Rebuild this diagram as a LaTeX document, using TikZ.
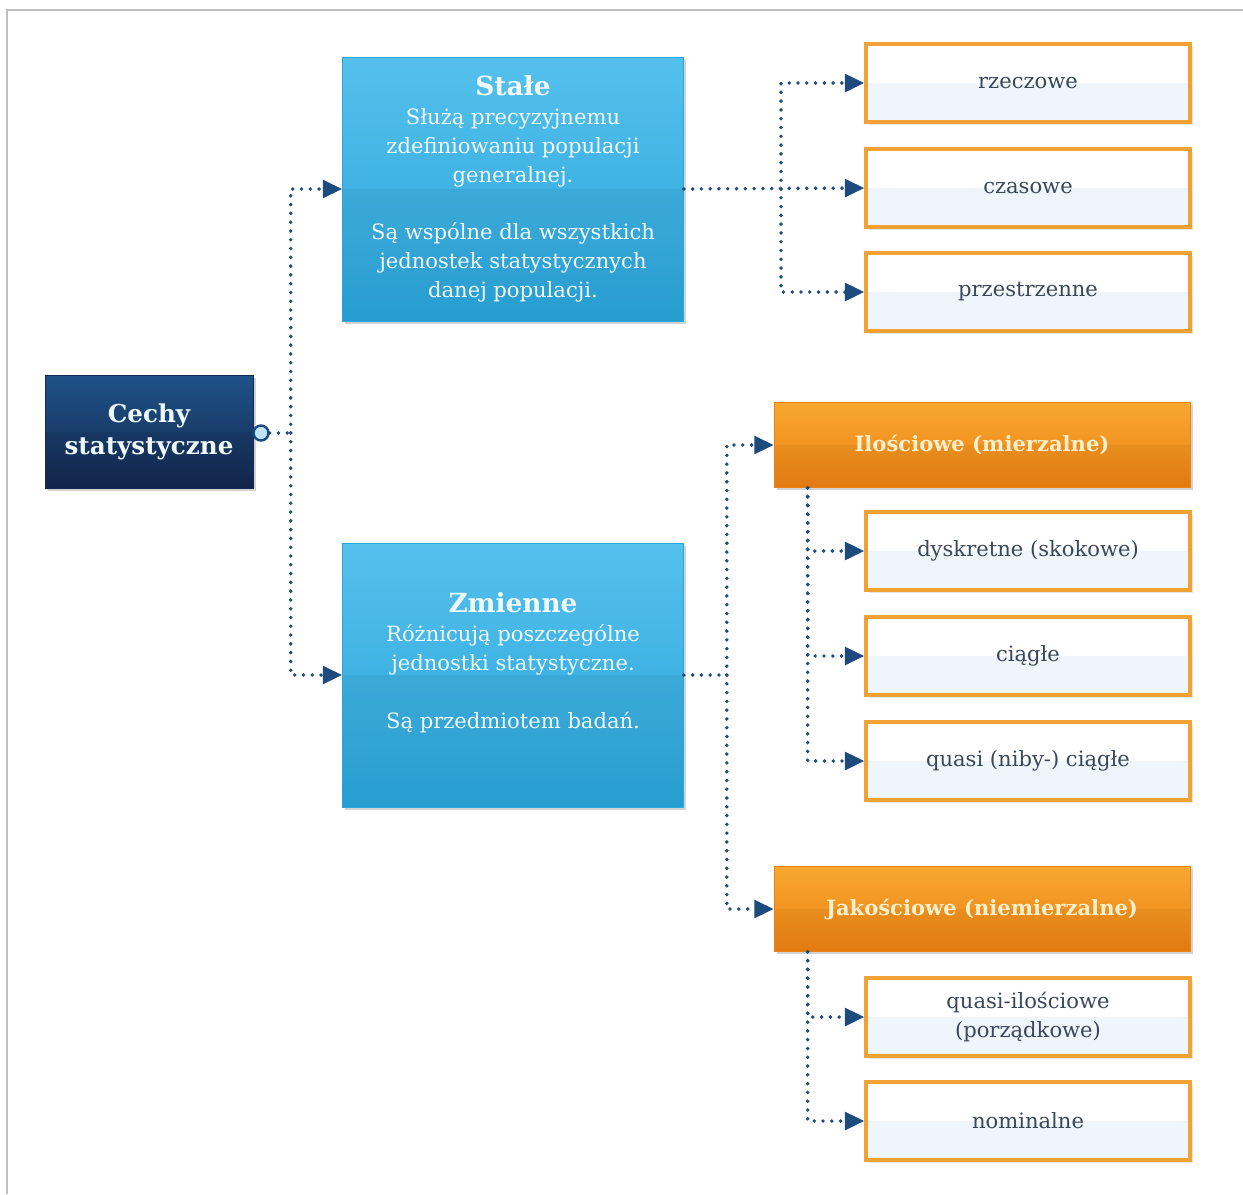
\documentclass[tikz,border=0pt]{standalone}
\usepackage{fontspec}
\setmainfont{DejaVu Serif}
\usepackage{tikz}
\usetikzlibrary{arrows.meta,positioning,shadows}
\definecolor{navytop}{RGB}{30,82,135}
\definecolor{navybot}{RGB}{20,40,80}
\definecolor{skytop}{RGB}{85,192,236}
\definecolor{skybot}{RGB}{42,166,220}
\definecolor{ambertop}{RGB}{248,168,48}
\definecolor{amberbot}{RGB}{236,128,18}
\definecolor{amberline}{RGB}{242,162,52}
\definecolor{linkblue}{RGB}{30,75,125}
\definecolor{inktext}{RGB}{58,72,90}
\definecolor{creamtext}{RGB}{255,240,205}
\definecolor{paleblue}{RGB}{238,245,251}

\begin{document}
\begin{tikzpicture}[
  x=0.02cm, y=-0.02cm,
  gloss/.style={path picture={\fill[black, opacity=#1] (path picture bounding box.west) rectangle (path picture bounding box.south east);}},
  gloss/.default=0.07,
  shade/.style={drop shadow={opacity=#1, shadow xshift=1.6pt, shadow yshift=-1.6pt}},
  shade/.default=0.35,
  rootbox/.style={minimum width=4.16cm, minimum height=2.26cm, inner sep=0pt, top color=navytop, bottom color=navybot, draw=navybot, text=white!90!skytop, font=\bfseries\fontsize{14}{18}\selectfont, align=center, shade, gloss},
  groupbox/.style={minimum width=6.82cm, minimum height=5.28cm, inner sep=0pt, top color=skytop, bottom color=skybot, draw=skybot, text=white!92!skytop, font=\fontsize{12}{16.4}\selectfont, align=center, shade, gloss=0.05},
  headbox/.style={minimum width=8.32cm, minimum height=1.7cm, inner sep=0pt, top color=ambertop, bottom color=amberbot, draw=amberbot, text=creamtext, font=\bfseries\fontsize{12}{15}\selectfont, align=center, shade, gloss=0.04},
  leafbox/.style={minimum width=6.48cm, minimum height=1.56cm, inner sep=0pt, fill=white, draw=amberline, line width=2pt, text=inktext, font=\fontsize{12}{16.4}\selectfont, align=center, shade=0.2,
    path picture={\fill[paleblue] (path picture bounding box.west) rectangle (path picture bounding box.south east);}},
  link/.style={linkblue, line width=2.2pt, line cap=round, dash pattern=on 0pt off 5pt},
  arr/.style={link, -{Triangle[length=11pt,width=10pt]}},
]
\useasboundingbox (0,0) rectangle (1243,1194);
\draw[black!25, line width=1.1pt] (7,1194) -- (7,10) -- (1243,10);

% root
\node[rootbox] (cechy) at (149,432) {Cechy\\statystyczne};
\node[circle, minimum size=0.3cm, inner sep=0pt, fill=paleblue!70!skytop, draw=linkblue, line width=1.4pt] (cdot) at (261,433) {};

% groups
\node[groupbox] (stale) at (513,189) {{\fontsize{15}{16.4}\selectfont\bfseries Stałe}\\ Służą precyzyjnemu\\ zdefiniowaniu populacji\\ generalnej.\\[16.4pt] Są wspólne dla wszystkich\\ jednostek statystycznych\\ danej populacji.};
\node[groupbox] (zmienne) at (513,675) {{\fontsize{15}{16.4}\selectfont\bfseries Zmienne}\\ Różnicują poszczególne\\ jednostki statystyczne.\\[16.4pt] Są przedmiotem badań.\\ \mbox{}};

% leaves of Stałe
\node[leafbox] (rzeczowe) at (1028,83) {rzeczowe};
\node[leafbox] (czasowe) at (1028,188) {czasowe};
\node[leafbox] (przestrzenne) at (1028,292) {przestrzenne};

% Zmienne
\node[headbox] (ilosciowe) at (982,445) {Ilościowe (mierzalne)};
\node[leafbox] (dyskretne) at (1028,551) {dyskretne (skokowe)};
\node[leafbox] (ciagle) at (1028,656) {ciągłe};
\node[leafbox] (quasiciagle) at (1028,761) {quasi (niby-) ciągłe};

\node[headbox] (jakosciowe) at (982,909) {Jakościowe (niemierzalne)};
\node[leafbox] (porzadkowe) at (1028,1017) {quasi-ilościowe\\(porządkowe)};
\node[leafbox] (nominalne) at (1028,1121) {nominalne};

% connectors
\draw[link] (cdot.east) -- ++(21,0) coordinate (jroot);
\draw[arr] (jroot) |- (stale.west);
\draw[arr] (jroot) |- (zmienne.west);

\draw[arr] (stale.east) -- (czasowe.west);
\coordinate (jstale) at (781,189);
\draw[arr] (jstale) |- (rzeczowe.west);
\draw[arr] (jstale) |- (przestrzenne.west);

\draw[link] (zmienne.east) -- ++(43,0) coordinate (jzm);
\draw[arr] (jzm) |- (ilosciowe.west);
\draw[arr] (jzm) |- (jakosciowe.west);

\coordinate (jilo) at ([xshift=0.68cm]ilosciowe.south west);
\draw[arr] (jilo) |- (dyskretne.west);
\draw[arr] (jilo) |- (ciagle.west);
\draw[arr] (jilo) |- (quasiciagle.west);

\coordinate (jjak) at ([xshift=0.68cm]jakosciowe.south west);
\draw[arr] (jjak) |- (porzadkowe.west);
\draw[arr] (jjak) |- (nominalne.west);
\end{tikzpicture}
\end{document}
